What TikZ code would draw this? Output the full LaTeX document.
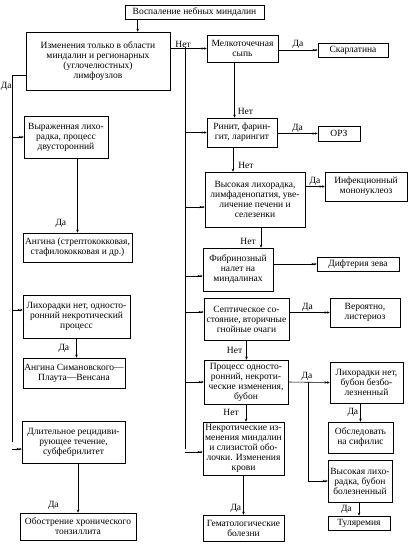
\documentclass[tikz,border=0pt]{standalone}
\usepackage{fontspec}
\setmainfont{Liberation Serif}
\usetikzlibrary{positioning,arrows.meta}

\begin{document}
\begin{tikzpicture}[x=1pt, y=-1pt,
  font=\fontsize{9.5}{10}\selectfont,
  box/.style 2 args={draw, line width=0.6pt, align=center, inner xsep=1pt, inner ysep=1pt, minimum width=#1, minimum height=#2},
  hto/.style={-{Stealth[length=2.6pt,width=2.4pt]Stealth[length=2.6pt,width=2.4pt]}, line width=0.6pt},
  vto/.style={-{Stealth[length=3pt,width=2.6pt]}, line width=0.6pt},
  lbl/.style={inner sep=1pt}]
\useasboundingbox (0,0) rectangle (409,550);

% left part
\node[box={139pt}{14pt}] (top) at (194.5,12) {Воспаление небных миндалин};
\node[box={144pt}{58pt}] (chg) at (98,61) {Изменения только в области\\миндалин и регионарных\\(углочелюстных)\\лимфоузлов};
\node[box={84pt}{42pt}] (fever) at (66,137) {Выраженная лихо-\\радка, процесс\\двусторонний};
\node[box={109pt}{29pt}] (angina) at (77.5,247.5) {Ангина (стрептококковая,\\стафилококковая и др.)};
\node[box={107pt}{43pt}] (nofever) at (76.5,316.5) {Лихорадки нет, односто-\\ронний некротический\\процесс};
\node[box={102pt}{30pt}] (simanov) at (74,373) {Ангина Симановского—\\Плаута—Венсана};
\node[box={103pt}{42pt}] (chronic) at (73.5,442) {Длительное рецидиви-\\рующее течение,\\субфебрилитет};
\node[box={116pt}{27pt}] (tonsil) at (78,526.5) {Обострение хронического\\тонзиллита};

% right part
\node[box={71pt}{27pt}] (rash) at (242.5,48.5) {Мелкоточечная\\сыпь};
\node[box={70pt}{14pt}] (scarl) at (353,50) {Скарлатина};
\node[box={70pt}{29pt}] (rhin) at (242,132.5) {Ринит, фарин-\\гит, ларингит};
\node[box={42pt}{15pt}] (orz) at (339,133.5) {ОРЗ};
\node[box={100pt}{55pt}] (highf) at (255,199.5) {Высокая лихорадка,\\лимфаденопатия, уве-\\личение печени и\\селезенки};
\node[box={82pt}{29pt}] (mono) at (366,186.5) {Инфекционный\\мононуклеоз};
\node[box={70pt}{43pt}] (fibr) at (238,269.5) {Фибринозный\\налет на\\миндалинах};
\node[box={82pt}{14pt}] (diph) at (358,264) {Дифтерия зева};
\node[box={85pt}{42pt}] (sept) at (246.5,319) {Септическое со-\\стояние, вторичные\\гнойные очаги};
\node[box={70pt}{29pt}] (list) at (365,312.5) {Вероятно,\\листериоз};
\node[box={84pt}{44pt}] (proc) at (246,382) {Процесс односто-\\ронний, некроти-\\ческие изменения,\\бубон};
\node[box={73pt}{41pt}] (nobub) at (366.5,382.5) {Лихорадки нет,\\бубон безбо-\\лезненный};
\node[box={65pt}{31pt}] (syph) at (360.5,437.5) {Обследовать\\на сифилис};
\node[box={64pt}{42pt}] (painb) at (360,481) {Высокая лихо-\\радка, бубон\\болезненный};
\node[box={62pt}{14pt}] (tular) at (359,523) {Туляремия};
\node[box={81pt}{53pt}] (necr) at (243.5,448.5) {Некротические из-\\менения миндалин\\и слизистой обо-\\лочки. Изменения\\крови};
\node[box={81pt}{26pt}] (hemat) at (243.5,528) {Гематологические\\болезни};

\coordinate (lft) at (12,75);
\coordinate (trk) at (185,47);
\coordinate (jn) at (308,382);

% connectors
\draw[vto] ([xshift=13pt]top.south west) -- ([xshift=13pt]top.south west |- chg.north);

\draw ([yshift=-14pt]chg.west) -- (lft) -- node[lbl, inner sep=0.3pt, pos=0.03, left] {Да} (lft |- chronic.west);
\draw[hto] (lft |- fever.west) -- (fever.west);
\draw[hto] (lft |- nofever.west) ++(0,-6.5) -- ([yshift=6.5pt]nofever.west);
\draw[hto] ([yshift=-7pt]lft |- chronic.west) -- ([yshift=-7pt]chronic.west);
\draw[vto] (fever.south -| angina.north) -- node[lbl, pos=0.88, left=10pt] {Да} (angina.north);
\draw[vto] (nofever.south) -- node[lbl, left=6pt] {Да} (nofever.south |- simanov.north);
\draw[vto] (tonsil.north |- chronic.south) -- node[lbl, pos=0.85, left=18pt] {Да} (tonsil.north);

\draw[hto] (chg.east |- rash.west) -- node[lbl, above, pos=0.35] {Нет} (rash.west);
\draw (trk) -- (trk |- necr.west);
\draw[hto] (trk |- rhin.west) -- (rhin.west);
\draw[hto] ([yshift=-7.5pt]trk |- highf.west) -- ([yshift=-7.5pt]highf.west);
\draw[hto] ([yshift=-6.5pt]trk |- fibr.west) -- ([yshift=-6.5pt]fibr.west);
\draw[hto] ([yshift=7pt]trk |- sept.west) -- ([yshift=7pt]sept.west);
\draw[hto] (trk |- proc.west) -- (proc.west);
\draw[hto] ([yshift=-3.5pt]trk |- necr.west) -- ([yshift=-3.5pt]necr.west);

\draw[hto] (rash.east |- scarl.west) -- node[lbl, above] {Да} (scarl.west);
\draw[vto] ([xshift=-8pt]rash.south) -- node[lbl, pos=0.88, right=2pt] {Нет} ([xshift=-8pt]rash.south |- rhin.north);
\draw[hto] (rhin.east |- orz.west) -- node[lbl, above] {Да} (orz.west);
\draw[vto] ([xshift=-9pt]rhin.south) -- node[lbl, pos=0.75, right=4pt] {Нет} ([xshift=-9pt]rhin.south |- highf.north);
\draw[hto] (highf.east |- mono.west) -- node[lbl, above] {Да} (mono.west);
\draw[vto] ([xshift=6pt]highf.south) -- node[lbl, pos=0.7, left=4pt] {Нет} ([xshift=6pt]highf.south |- fibr.north);
\draw[hto] (fibr.east |- diph.west) -- (diph.west);
\draw[hto] (sept.east |- list.west) -- node[lbl, above, pos=0.45] {Да} (list.west);
\draw[vto] (sept.south) -- node[lbl, left=3pt] {Нет} (sept.south |- proc.north);
\draw[hto] (proc.east) -- node[lbl, above, pos=0.45] {Да} (nobub.west);
\draw[hto] (jn) |- (painb.west);
\draw[vto] (syph.north |- nobub.south) -- node[lbl, left=1pt] {Да} (syph.north);
\draw[vto] (tular.north |- painb.south) -- node[lbl, left=6pt] {Да} (tular.north);
\draw[vto] (proc.south) -- node[lbl, pos=0.45, left=6pt] {Нет} (proc.south |- necr.north);
\draw[vto] (necr.south) -- node[lbl, pos=0.85, left=1pt] {Да} (hemat.north);
\end{tikzpicture}
\end{document}
